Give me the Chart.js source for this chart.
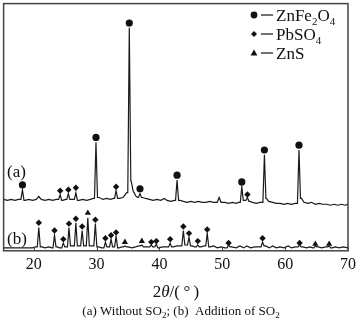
<!DOCTYPE html>
<html>
<head>
<meta charset="utf-8">
<script src="https://cdn.jsdelivr.net/npm/chart.js@4/dist/chart.umd.min.js"></script>
<style>
  html, body { margin: 0; padding: 0; background: #fff; }
  #wrap { width: 360px; height: 324px; position: relative; }
</style>
</head>
<body>
<div id="wrap"><canvas id="xrd"></canvas></div>
<script>
// 2θ window and tick values
const xMin = 15.2, xMax = 70;
const xTicks = [20, 30, 40, 50, 60, 70];

// pattern (a), without SO2: background trace and peak apexes [2θ, intensity]
const baseA = [
  [15.2, 53], [15.8, 52], [16.4, 53], [17.0, 52], [17.6, 53], [18.6, 52], [19.2, 53], [19.8, 52],
  [20.4, 53], [20.8, 56], [21.2, 53], [21.8, 52], [22.4, 53], [23.0, 52], [23.6, 53], [24.6, 52],
  [25.1, 53], [26.0, 53], [27.2, 52], [27.8, 53], [28.4, 52], [29.0, 53], [29.5, 54], [30.4, 55],
  [31.0, 53], [31.6, 54], [32.2, 53], [32.7, 54], [33.6, 54], [34.2, 55], [34.8, 60], [35.5, 72],
  [35.8, 62], [36.2, 57], [36.5, 55], [37.3, 55], [37.8, 54], [38.4, 53], [39.0, 52], [39.6, 53],
  [40.2, 52], [40.8, 54], [41.2, 52], [41.8, 51], [42.4, 52], [43.3, 52], [43.8, 51], [44.4, 50],
  [45.0, 51], [45.6, 50], [46.2, 51], [46.8, 50], [47.4, 50], [48.0, 51], [48.6, 50], [49.2, 50],
  [49.5, 55], [49.8, 50], [50.4, 50], [51.0, 49], [51.6, 50], [52.2, 49], [52.6, 50], [53.5, 52],
  [54.4, 51], [54.8, 50], [55.4, 49], [56.0, 50], [57.0, 54], [57.4, 51], [58.0, 50], [58.6, 49],
  [59.2, 49], [59.8, 48], [60.4, 49], [61.0, 48], [61.6, 49], [62.6, 54], [63.0, 50], [63.6, 49],
  [64.2, 50], [64.8, 48], [65.4, 49], [66.0, 48], [66.6, 48], [67.2, 47], [67.8, 48], [68.4, 47],
  [69.0, 48], [69.5, 47], [70.0, 48]
];
const peaksA = [
  [18.2, 63], [24.2, 58], [25.5, 59], [26.7, 60], [29.9, 112], [33.1, 62], [35.2, 230],
  [36.9, 59], [42.8, 73], [53.1, 66], [54.0, 55], [56.7, 99], [62.2, 104]
];

// pattern (b), SO2 added
const baseB = [
  [15.2, 3], [16.0, 3], [16.8, 3], [17.6, 3], [18.4, 3], [19.2, 3], [19.8, 3], [20.3, 4],
  [21.3, 4], [21.8, 3], [22.4, 4], [22.9, 3], [23.7, 4], [24.1, 3], [25.1, 4], [26.1, 5],
  [27.2, 5], [28.1, 5], [29.2, 5], [30.3, 4], [30.8, 3], [31.8, 4], [32.7, 4], [33.6, 3],
  [34.0, 4], [35.0, 4], [35.6, 3], [36.2, 4], [36.7, 5], [37.6, 4], [38.2, 4], [39.1, 4],
  [39.9, 3], [40.5, 4], [41.1, 4], [42.2, 4], [42.8, 5], [43.3, 5], [44.2, 6], [45.2, 5],
  [45.6, 4], [46.6, 4], [47.1, 5], [48.1, 4], [48.6, 5], [49.2, 3], [49.8, 4], [50.4, 3],
  [51.5, 4], [52.2, 3], [52.8, 5], [53.4, 3], [53.9, 5], [54.5, 3], [55.2, 4], [55.8, 4],
  [56.9, 5], [57.5, 3], [58.0, 5], [58.6, 3], [59.2, 4], [59.8, 3], [60.5, 5], [61.0, 3],
  [61.6, 4], [62.8, 4], [63.4, 3], [64.0, 4], [64.4, 3], [65.3, 4], [65.8, 3], [66.4, 4],
  [67.5, 3], [68.0, 4], [68.6, 3], [69.2, 4], [70.0, 3]
];
const peaksB = [
  [20.8, 24], [23.3, 16], [24.7, 8], [25.6, 24], [26.7, 29], [27.7, 21], [28.6, 34], [29.8, 28],
  [31.4, 9], [32.3, 12], [33.1, 15], [34.5, 5], [37.2, 6], [38.7, 6], [39.5, 7], [41.7, 8],
  [43.8, 21], [44.7, 14], [46.1, 6], [47.6, 18], [51.0, 6], [56.4, 9], [62.3, 6], [64.8, 5], [67.0, 5]
];

// phase markers above the peaks [2θ, intensity]
const ferriteMarks = [
  [18.2, 68], [29.9, 117], [35.2, 235], [36.9, 64], [42.8, 78], [53.1, 71], [56.7, 104], [62.2, 109]
];
const sulfateMarks = [
  [24.2, 62], [25.5, 63], [26.7, 65], [33.1, 66], [54.0, 58],
  [20.8, 29], [23.3, 21], [24.7, 12], [25.6, 28], [26.7, 33], [27.7, 25], [29.8, 32], [31.4, 13],
  [32.3, 16], [33.1, 19], [38.7, 9], [39.5, 10], [41.7, 12], [43.8, 25], [44.7, 18], [46.1, 10],
  [47.6, 22], [51.0, 8], [56.4, 13], [62.3, 8]
];
const sulfideMarks = [[28.6, 39], [34.5, 9], [37.2, 10], [64.8, 7], [67.0, 7]];

const SERIF = '"Liberation Serif", "DejaVu Serif", serif';
const INK = '#111';
const PEAK_HW = 0.24; // half width of a peak foot, degrees

// merge background and sharp peaks into one sorted trace
function trace(base, peaks) {
  const pts = base
    .filter(([x]) => !peaks.some(([p]) => Math.abs(x - p) < PEAK_HW))
    .map(([x, y]) => ({ x, y }));
  peaks.forEach(([p, top]) => {
    const left = [...base].reverse().find(([x]) => x <= p - PEAK_HW) || base[0];
    const right = base.find(([x]) => x >= p + PEAK_HW) || base[base.length - 1];
    pts.push({ x: p - PEAK_HW, y: left[1] }, { x: p, y: top }, { x: p + PEAK_HW, y: right[1] });
  });
  return pts.sort((a, b) => a.x - b.x);
}

const toXY = arr => arr.map(([x, y]) => ({ x, y }));

// draw a run of text pieces; sub pieces are shrunk and dropped
function richText(ctx, parts, x, y, size, align) {
  const widths = parts.map(p => {
    ctx.font = `${p.it ? 'italic ' : ''}${p.sub ? Math.round(size * 0.66) : size}px ${SERIF}`;
    return ctx.measureText(p.t).width;
  });
  const total = widths.reduce((a, b) => a + b, 0);
  let cx = align === 'center' ? x - total / 2 : x;
  parts.forEach((p, i) => {
    ctx.font = `${p.it ? 'italic ' : ''}${p.sub ? Math.round(size * 0.66) : size}px ${SERIF}`;
    ctx.fillText(p.t, cx, p.sub ? y + size * 0.22 : y);
    cx += widths[i];
  });
}

function glyph(ctx, kind, x, y) {
  ctx.beginPath();
  if (kind === 'circle') ctx.arc(x, y, 3.4, 0, Math.PI * 2);
  else if (kind === 'diamond') { ctx.moveTo(x, y - 3); ctx.lineTo(x + 3, y); ctx.lineTo(x, y + 3); ctx.lineTo(x - 3, y); }
  else { ctx.moveTo(x, y - 3.4); ctx.lineTo(x + 3.4, y + 2.6); ctx.lineTo(x - 3.4, y + 2.6); }
  ctx.closePath();
  ctx.fill();
}

const framePlugin = {
  id: 'frame',
  afterDatasetsDraw(chart) {
    const { ctx, chartArea: a, scales: { x } } = chart;
    ctx.save();
    ctx.strokeStyle = '#444';
    ctx.lineWidth = 1.5;
    ctx.strokeRect(a.left, a.top, a.right - a.left, a.bottom - a.top);
    ctx.lineWidth = 1;
    xTicks.forEach(v => {
      const px = Math.round(x.getPixelForValue(v)) + 0.5;
      ctx.beginPath(); ctx.moveTo(px, a.bottom); ctx.lineTo(px, a.bottom - 4); ctx.stroke();
    });

    ctx.fillStyle = INK;
    ctx.textBaseline = 'alphabetic';
    ctx.textAlign = 'left';
    ctx.font = `17px ${SERIF}`;
    ctx.fillText('(a)', 7, 177);
    ctx.fillText('(b)', 7, 244);

    // phase key
    const key = [
      ['circle', [{ t: 'ZnFe' }, { t: '2', sub: 1 }, { t: 'O' }, { t: '4', sub: 1 }]],
      ['diamond', [{ t: 'PbSO' }, { t: '4', sub: 1 }]],
      ['triangle', [{ t: 'ZnS' }]]
    ];
    key.forEach(([kind, parts], i) => {
      const cy = 15 + i * 19;
      glyph(ctx, kind, 254, cy);
      ctx.beginPath(); ctx.strokeStyle = INK; ctx.lineWidth = 1.2;
      ctx.moveTo(261, cy); ctx.lineTo(273, cy); ctx.stroke();
      richText(ctx, parts, 276, cy + 6, 17, 'left');
    });

    richText(ctx, [{ t: '2' }, { t: 'θ', it: 1 }, { t: '/(\u2009°\u2009)' }], 176, 297, 17, 'center');
    richText(ctx, [
      { t: '(a) Without SO' }, { t: '2', sub: 1 }, { t: '; (b)  Addition of SO' }, { t: '2', sub: 1 }
    ], 181, 315, 13, 'center');
    ctx.restore();
  }
};

const markStyle = (style, radius) => ({
  type: 'scatter', pointStyle: style, pointRadius: radius, pointHoverRadius: radius,
  pointBackgroundColor: INK, pointBorderColor: INK, pointBorderWidth: 0
});

new Chart(document.getElementById('xrd'), {
  type: 'line',
  data: {
    datasets: [
      { data: trace(baseA, peaksA), borderColor: '#1a1a1a', borderWidth: 1.2, pointRadius: 0, tension: 0 },
      { data: trace(baseB, peaksB), borderColor: '#1a1a1a', borderWidth: 1.2, pointRadius: 0, tension: 0 },
      { data: toXY(ferriteMarks), ...markStyle('circle', 3.6) },
      { data: toXY(sulfateMarks), ...markStyle('rectRot', 3.2) },
      { data: toXY(sulfideMarks), ...markStyle('triangle', 3.6) }
    ]
  },
  options: {
    responsive: true,
    maintainAspectRatio: false,
    animation: false,
    events: [],
    layout: { padding: { left: 1, top: 1, right: 8, bottom: 46 } },
    plugins: { legend: { display: false }, tooltip: { enabled: false } },
    scales: {
      x: {
        type: 'linear', min: xMin, max: xMax,
        afterBuildTicks: s => { s.ticks = xTicks.map(v => ({ value: v })); },
        grid: { display: false, drawTicks: false },
        border: { display: false },
        ticks: { autoSkip: false, maxRotation: 0, padding: 4, color: INK, font: { family: SERIF, size: 16 } }
      },
      y: { type: 'linear', min: 0, max: 255, display: false }
    }
  },
  plugins: [framePlugin]
});
</script>
</body>
</html>
